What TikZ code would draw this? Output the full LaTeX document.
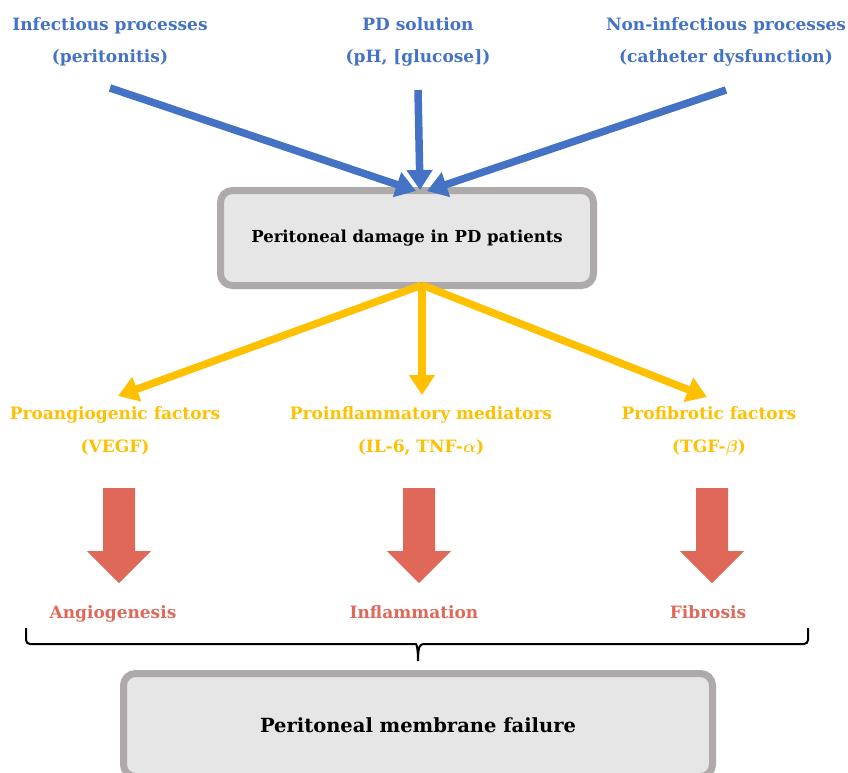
\documentclass[tikz,border=0pt]{standalone}
\usepackage{fontspec}
\setmainfont{DejaVu Serif}
\usetikzlibrary{arrows.meta,positioning}
\definecolor{bluearr}{HTML}{4472C4}
\definecolor{goldarr}{HTML}{FFC000}
\definecolor{redarr}{HTML}{E06858}
\definecolor{boxline}{HTML}{AEAAAA}
\definecolor{boxfill}{HTML}{E6E6E6}
\begin{document}
\begin{tikzpicture}[
        x=1pt,y=-1pt,
        bluelbl/.style={text=bluearr,align=center,font=\bfseries\fontsize{17}{32}\selectfont},
        goldlbl/.style={text=goldarr,align=center,font=\bfseries\boldmath\fontsize{17}{33}\selectfont},
        redlbl/.style={text=redarr,anchor=base,font=\bfseries\fontsize{17}{20}\selectfont},
        bluearrow/.style={draw=bluearr,line width=7.5pt,-{Triangle[length=20pt,width=25pt]}},
        goldarrow/.style={draw=goldarr,line width=7.5pt,-{Triangle[length=20pt,width=25pt]}},
        greybox/.style={draw=boxline,fill=boxfill,line width=7pt,rounded corners=12pt},
        bracepen/.style={draw=black,line width=2pt}
      ]
      \useasboundingbox (0,0) rectangle (848,772);
      % sources
      \node[bluelbl] (inf) at (110,42) {Infectious processes\\(peritonitis)};
      \node[bluelbl] (sol) at (418,42) {PD solution\\(pH, [glucose])};
      \node[bluelbl] (noninf) at (726,42) {Non-infectious processes\\(catheter dysfunction)};
      \coordinate (infstart) at (110,88);
      \coordinate (solstart) at (418,90);
      \coordinate (noninfstart) at (726,90);
      % damage
      \node[greybox,minimum width=373pt,minimum height=95pt,
        font=\bfseries\fontsize{16.5}{20}\selectfont] (damage) at (407,238)
        {Peritoneal damage in PD patients};
      \coordinate (tipL) at (416,191);
      \coordinate (tipM) at (420,190);
      \coordinate (tipR) at (427,191);
      \draw[bluearrow] (infstart) -- (tipL);
      \draw[bluearrow] (solstart) -- (tipM);
      \draw[bluearrow] (noninfstart) -- (tipR);
      % mediators
      \coordinate (root) at (422,285);
      \node[goldlbl] (angio) at (115,431) {Proangiogenic factors\\(VEGF)};
      \node[goldlbl] (inflam) at (421,431) {Proinflammatory mediators\\(IL-6, TNF-$\alpha$)};
      \node[goldlbl] (fibro) at (709,431) {Profibrotic factors\\(TGF-$\beta$)};
      \draw[goldarrow] (root) -- (118,396);
      \draw[goldarrow] (root) -- (422,395);
      \draw[goldarrow] (root) -- (707,397);
      % outcomes
      \foreach \x in {119,419,712}
        \fill[redarr,shift={(\x,488)}] (-16,0) -- (16,0) -- (16,63) -- (32,63)
          -- (0,95) -- (-32,63) -- (-16,63) -- cycle;
      \node[redlbl] (angres) at (113,618) {Angiogenesis};
      \node[redlbl] (infres) at (414,618) {Inflammation};
      \node[redlbl] (fibres) at (708,618) {Fibrosis};
      % failure
      \coordinate (braceL) at (26,628);
      \coordinate (braceR) at (808,628);
      \coordinate (bracetip) at (418,661);
      \draw[bracepen] (braceL) [rounded corners=4pt] |- (412,644) [sharp corners]
        .. controls (416,644) and (418,646) .. (bracetip)
        .. controls (418,646) and (420,644) .. (424,644) [rounded corners=4pt] -| (braceR);
      \node[greybox,minimum width=589pt,minimum height=103pt,
        font=\bfseries\fontsize{19.5}{23}\selectfont] (failure) at (418,725)
        {Peritoneal membrane failure};

    \end{tikzpicture}
\end{document}
